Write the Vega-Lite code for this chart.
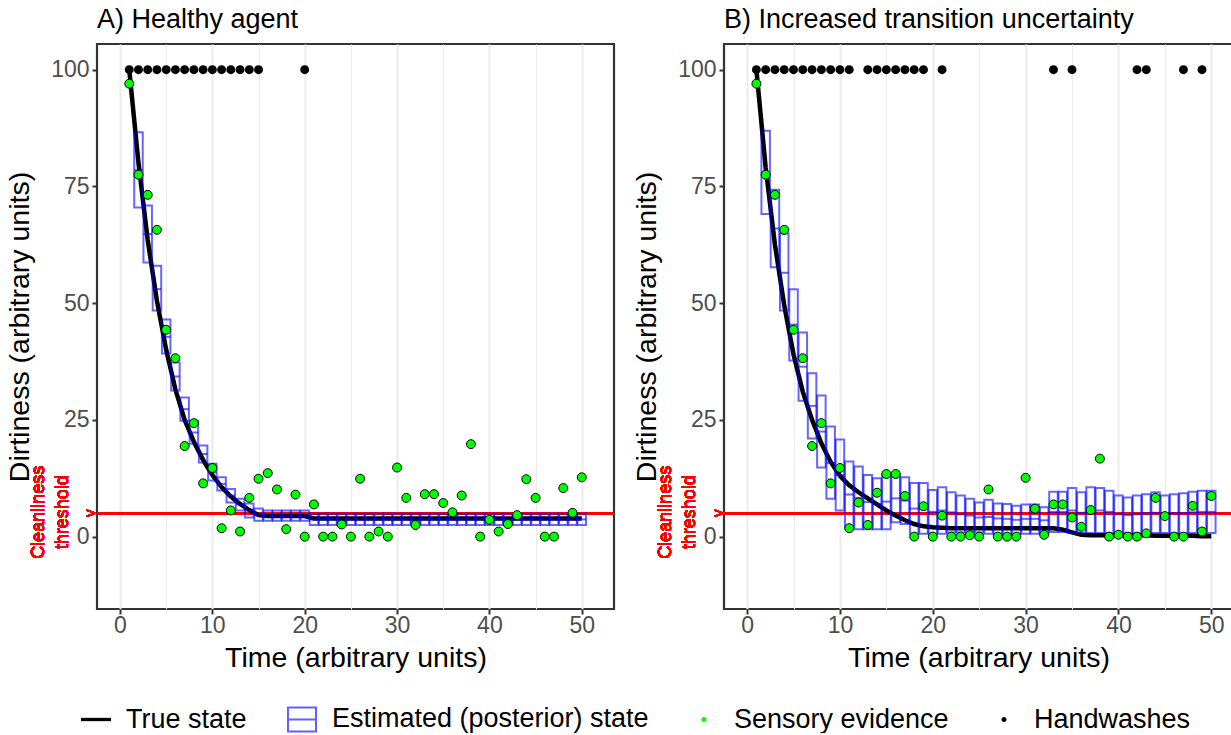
{
  "$schema": "https://vega.github.io/schema/vega-lite/v6.json",
  "padding": {"left": 4, "top": 4, "right": 0, "bottom": 0},
  "autosize": {"type": "pad"},
  "spacing": 14,
  "config": {
    "font": "Liberation Sans",
    "view": {"stroke": "#333333", "strokeWidth": 2.2},
    "axis": {
      "labelFont": "Liberation Sans", "labelFontSize": 23, "labelColor": "#4D4D4D",
      "titleFont": "Liberation Sans", "titleFontSize": 28.5, "titleFontWeight": "normal", "titleColor": "black",
      "tickColor": "#333333", "tickSize": 5, "tickWidth": 2, "domain": false,
      "gridColor": "#EBEBEB", "labelPadding": 3
    },
    "axisX": {"titlePadding": 6, "labelPadding": 0},
    "axisY": {"titlePadding": 16},
    "title": {"font": "Liberation Sans", "fontSize": 27, "fontWeight": "normal", "color": "black", "anchor": "start", "frame": "group", "offset": 10}
  },
  "datasets": {
    "a": [
      {"t": 1, "truth": 100, "obs": 97, "wash": 100},
      {"t": 2, "truth": 80, "lo": 70.5, "mid": 78.5, "hi": 86.6, "obs": 77.5, "wash": 100},
      {"t": 3, "truth": 63.5, "lo": 58.7, "mid": 64.8, "hi": 70.9, "obs": 73.2, "wash": 100},
      {"t": 4, "truth": 50.5, "lo": 48.4, "mid": 53, "hi": 58, "obs": 65.7, "wash": 100},
      {"t": 5, "truth": 40, "lo": 39.2, "mid": 42.8, "hi": 46.5, "obs": 44.3, "wash": 100},
      {"t": 6, "truth": 31.5, "lo": 31.3, "mid": 34.3, "hi": 37.3, "obs": 38.2, "wash": 100},
      {"t": 7, "truth": 25, "lo": 24.8, "mid": 27.3, "hi": 29.8, "obs": 19.4, "wash": 100},
      {"t": 8, "truth": 20.3, "lo": 19.9, "mid": 22.3, "hi": 24.8, "obs": 24.3, "wash": 100},
      {"t": 9, "truth": 16.4, "lo": 15.9, "mid": 17.7, "hi": 19.5, "obs": 11.4, "wash": 100},
      {"t": 10, "truth": 13.2, "lo": 12, "mid": 13.8, "hi": 15.6, "obs": 14.7, "wash": 100},
      {"t": 11, "truth": 10.6, "lo": 9.9, "mid": 11.3, "hi": 12.7, "obs": 1.8, "wash": 100},
      {"t": 12, "truth": 8.6, "lo": 7.3, "mid": 8.8, "hi": 10.2, "obs": 5.6, "wash": 100},
      {"t": 13, "truth": 7, "lo": 5.6, "mid": 6.9, "hi": 8.1, "obs": 1.1, "wash": 100},
      {"t": 14, "truth": 5.7, "lo": 4.1, "mid": 5.6, "hi": 7.1, "obs": 8.3, "wash": 100},
      {"t": 15, "truth": 4.6, "lo": 3.4, "mid": 4.7, "hi": 6, "obs": 12.4, "wash": 100},
      {"t": 16, "truth": 4.4, "lo": 3.4, "mid": 4.5, "hi": 5.6, "obs": 13.6},
      {"t": 17, "truth": 4.4, "lo": 3.4, "mid": 4.5, "hi": 5.6, "obs": 10.1},
      {"t": 18, "truth": 4.4, "lo": 3.4, "mid": 4.5, "hi": 5.6, "obs": 1.6},
      {"t": 19, "truth": 4.4, "lo": 3.4, "mid": 4.5, "hi": 5.6, "obs": 9.0},
      {"t": 20, "truth": 4.4, "lo": 3.4, "mid": 4.5, "hi": 5.6, "obs": 0, "wash": 100},
      {"t": 21, "truth": 3.9, "lo": 2.5, "mid": 3.7, "hi": 4.9, "obs": 6.9},
      {"t": 22, "truth": 3.9, "lo": 2.5, "mid": 3.7, "hi": 4.9, "obs": 0},
      {"t": 23, "truth": 3.9, "lo": 2.5, "mid": 3.7, "hi": 4.9, "obs": 0},
      {"t": 24, "truth": 3.9, "lo": 2.5, "mid": 3.7, "hi": 4.9, "obs": 2.6},
      {"t": 25, "truth": 3.9, "lo": 2.5, "mid": 3.7, "hi": 4.9, "obs": 0},
      {"t": 26, "truth": 3.9, "lo": 2.5, "mid": 3.7, "hi": 4.9, "obs": 12.4},
      {"t": 27, "truth": 3.9, "lo": 2.5, "mid": 3.7, "hi": 4.9, "obs": 0},
      {"t": 28, "truth": 3.9, "lo": 2.5, "mid": 3.7, "hi": 4.9, "obs": 1.1},
      {"t": 29, "truth": 3.9, "lo": 2.5, "mid": 3.7, "hi": 4.9, "obs": 0},
      {"t": 30, "truth": 3.9, "lo": 2.5, "mid": 3.7, "hi": 4.9, "obs": 14.8},
      {"t": 31, "truth": 3.9, "lo": 2.5, "mid": 3.7, "hi": 4.9, "obs": 8.3},
      {"t": 32, "truth": 3.9, "lo": 2.5, "mid": 3.7, "hi": 4.9, "obs": 2.5},
      {"t": 33, "truth": 3.9, "lo": 2.5, "mid": 3.7, "hi": 4.9, "obs": 9.1},
      {"t": 34, "truth": 3.9, "lo": 2.5, "mid": 3.7, "hi": 4.9, "obs": 9.1},
      {"t": 35, "truth": 3.9, "lo": 2.5, "mid": 3.7, "hi": 4.9, "obs": 7.2},
      {"t": 36, "truth": 3.9, "lo": 2.5, "mid": 3.7, "hi": 4.9, "obs": 5.2},
      {"t": 37, "truth": 3.9, "lo": 2.5, "mid": 3.7, "hi": 4.9, "obs": 8.8},
      {"t": 38, "truth": 3.9, "lo": 2.5, "mid": 3.7, "hi": 4.9, "obs": 19.8},
      {"t": 39, "truth": 3.9, "lo": 2.5, "mid": 3.7, "hi": 4.9, "obs": 0},
      {"t": 40, "truth": 3.9, "lo": 2.5, "mid": 3.7, "hi": 4.9, "obs": 3.6},
      {"t": 41, "truth": 3.9, "lo": 2.5, "mid": 3.7, "hi": 4.9, "obs": 1.1},
      {"t": 42, "truth": 3.9, "lo": 2.5, "mid": 3.7, "hi": 4.9, "obs": 2.7},
      {"t": 43, "truth": 3.9, "lo": 2.5, "mid": 3.7, "hi": 4.9, "obs": 4.6},
      {"t": 44, "truth": 3.9, "lo": 2.5, "mid": 3.7, "hi": 4.9, "obs": 12.3},
      {"t": 45, "truth": 3.9, "lo": 2.5, "mid": 3.7, "hi": 4.9, "obs": 8.3},
      {"t": 46, "truth": 3.9, "lo": 2.5, "mid": 3.7, "hi": 4.9, "obs": 0},
      {"t": 47, "truth": 3.9, "lo": 2.5, "mid": 3.7, "hi": 4.9, "obs": 0},
      {"t": 48, "truth": 3.9, "lo": 2.5, "mid": 3.7, "hi": 4.9, "obs": 10.4},
      {"t": 49, "truth": 3.9, "lo": 2.5, "mid": 3.7, "hi": 4.9, "obs": 5.1},
      {"t": 50, "truth": 3.9, "lo": 2.5, "mid": 3.7, "hi": 4.9, "obs": 12.7}
    ],
    "b": [
      {"t": 1, "truth": 100, "obs": 97, "wash": 100},
      {"t": 2, "truth": 79, "lo": 69.1, "mid": 78, "hi": 86.9, "obs": 77.5, "wash": 100},
      {"t": 3, "truth": 62.5, "lo": 57.7, "mid": 66, "hi": 74.3, "obs": 73.2, "wash": 100},
      {"t": 4, "truth": 49.5, "lo": 48.4, "mid": 56.5, "hi": 64.9, "obs": 65.7, "wash": 100},
      {"t": 5, "truth": 39, "lo": 37.7, "mid": 45.4, "hi": 53, "obs": 44.3, "wash": 100},
      {"t": 6, "truth": 31, "lo": 29.1, "mid": 36.4, "hi": 43.7, "obs": 38.2, "wash": 100},
      {"t": 7, "truth": 25, "lo": 21, "mid": 28, "hi": 35, "obs": 19.4, "wash": 100},
      {"t": 8, "truth": 20, "lo": 14.8, "mid": 22.5, "hi": 30.2, "obs": 24.3, "wash": 100},
      {"t": 9, "truth": 16, "lo": 8.1, "mid": 15.8, "hi": 23.6, "obs": 11.4, "wash": 100},
      {"t": 10, "truth": 13, "lo": 5.6, "mid": 13.2, "hi": 20.8, "obs": 14.7, "wash": 100},
      {"t": 11, "truth": 11, "lo": 2, "mid": 9, "hi": 16.1, "obs": 1.8, "wash": 100},
      {"t": 12, "truth": 9.5, "lo": 1.6, "mid": 8.3, "hi": 15, "obs": 7.3},
      {"t": 13, "truth": 8.2, "lo": 1.6, "mid": 7.4, "hi": 13.2, "obs": 2.5, "wash": 100},
      {"t": 14, "truth": 6.9, "lo": 1.6, "mid": 7, "hi": 12.5, "obs": 9.4, "wash": 100},
      {"t": 15, "truth": 5.6, "lo": 1.6, "mid": 7.5, "hi": 13.4, "obs": 13.4, "wash": 100},
      {"t": 16, "truth": 4.5, "lo": 3.1, "mid": 8.2, "hi": 13.4, "obs": 13.4, "wash": 100},
      {"t": 17, "truth": 3.5, "lo": 2.7, "mid": 7.7, "hi": 12.7, "obs": 8.7, "wash": 100},
      {"t": 18, "truth": 2.7, "lo": 0.6, "mid": 6, "hi": 11.5, "obs": 0, "wash": 100},
      {"t": 19, "truth": 2.2, "lo": 0.6, "mid": 6, "hi": 11.5, "obs": 6.5, "wash": 100},
      {"t": 20, "truth": 2, "lo": 0.6, "mid": 5.3, "hi": 10, "obs": 0},
      {"t": 21, "truth": 1.9, "lo": 0.6, "mid": 5.6, "hi": 10.6, "obs": 4.5, "wash": 100},
      {"t": 22, "truth": 1.8, "lo": 0.9, "mid": 5.2, "hi": 9.5, "obs": 0},
      {"t": 23, "truth": 1.8, "lo": 0.9, "mid": 4.8, "hi": 8.8, "obs": 0},
      {"t": 24, "truth": 1.8, "lo": 0.9, "mid": 4.5, "hi": 8.1, "obs": 0.3},
      {"t": 25, "truth": 1.8, "lo": 0.9, "mid": 4.1, "hi": 7.3, "obs": 0},
      {"t": 26, "truth": 1.8, "lo": 0.6, "mid": 4.2, "hi": 7.9, "obs": 10.1},
      {"t": 27, "truth": 1.8, "lo": 0.6, "mid": 3.9, "hi": 7.1, "obs": 0},
      {"t": 28, "truth": 1.8, "lo": 0.6, "mid": 3.8, "hi": 7, "obs": 0},
      {"t": 29, "truth": 1.8, "lo": 0.6, "mid": 3.6, "hi": 6.6, "obs": 0},
      {"t": 30, "truth": 1.8, "lo": 0.6, "mid": 3.8, "hi": 6.9, "obs": 12.6},
      {"t": 31, "truth": 1.8, "lo": 0.6, "mid": 3.8, "hi": 6.9, "obs": 6},
      {"t": 32, "truth": 1.8, "lo": 0.6, "mid": 3.5, "hi": 6.3, "obs": 0.4},
      {"t": 33, "truth": 1.8, "lo": 1, "mid": 5.3, "hi": 9.6, "obs": 6.9, "wash": 100},
      {"t": 34, "truth": 1.5, "lo": 1, "mid": 5.3, "hi": 9.6, "obs": 6.9},
      {"t": 35, "truth": 0.9, "lo": 0.8, "mid": 5.6, "hi": 10.4, "obs": 4.1, "wash": 100},
      {"t": 36, "truth": 0.4, "lo": 0.8, "mid": 5.1, "hi": 9.5, "obs": 2.1},
      {"t": 37, "truth": 0.3, "lo": 0.8, "mid": 5.7, "hi": 10.6, "obs": 5.7},
      {"t": 38, "truth": 0.3, "lo": 0.8, "mid": 5.6, "hi": 10.4, "obs": 16.7},
      {"t": 39, "truth": 0.3, "lo": 0.8, "mid": 5.3, "hi": 9.85, "obs": 0},
      {"t": 40, "truth": 0.3, "lo": 0.8, "mid": 4.8, "hi": 8.8, "obs": 0.4},
      {"t": 41, "truth": 0.3, "lo": 0.8, "mid": 4.6, "hi": 8.4, "obs": 0},
      {"t": 42, "truth": 0.3, "lo": 0.8, "mid": 4.8, "hi": 8.8, "obs": 0, "wash": 100},
      {"t": 43, "truth": 0.3, "lo": 0.8, "mid": 5, "hi": 9.1, "obs": 0.7, "wash": 100},
      {"t": 44, "truth": 0.2, "lo": 0.8, "mid": 5.1, "hi": 9.5, "obs": 8.3},
      {"t": 45, "truth": 0.2, "lo": 0.8, "mid": 4.8, "hi": 8.8, "obs": 4.4},
      {"t": 46, "truth": 0.2, "lo": 0.8, "mid": 5, "hi": 9.1, "obs": 0},
      {"t": 47, "truth": 0.2, "lo": 0.8, "mid": 5, "hi": 9.3, "obs": 0, "wash": 100},
      {"t": 48, "truth": 0.2, "lo": 0.8, "mid": 5.2, "hi": 9.6, "obs": 6.6},
      {"t": 49, "truth": 0.1, "lo": 0.8, "mid": 5.3, "hi": 9.85, "obs": 1.1, "wash": 100},
      {"t": 50, "truth": 0.1, "lo": 0.8, "mid": 5.3, "hi": 9.85, "obs": 8.7}
    ],
    "legend": [
      {"series": "True state"},
      {"series": "Estimated (posterior) state"},
      {"series": "Sensory evidence"},
      {"series": "Handwashes"}
    ]
  },
  "hconcat": [
    {
      "width": 517, "height": 565,
      "title": {"text": "A) Healthy agent"},
      "data": {"name": "a"},
      "layer": [
        {
          "mark": {"type": "rule", "color": "red", "strokeWidth": 2},
          "encoding": {"y": {"datum": 5, "type": "quantitative", "title": "Dirtiness (arbitrary units)", "scale": {"domain": [-15.5, 105.5], "nice": false, "zero": false}}}
        },
        {
          "mark": {"type": "line", "color": "black", "strokeWidth": 4.5},
          "encoding": {
            "x": {"field": "t", "type": "quantitative", "title": "Time (arbitrary units)",
              "scale": {"domain": [-1.95, 52.95], "nice": false, "zero": false},
              "axis": {"values": [0, 5, 10, 15, 20, 25, 30, 35, 40, 45, 50], "format": "d",
                "labelExpr": "datum.value % 10 === 0 ? datum.label : ''",
                "gridWidth": {"condition": {"test": "datum.value % 10 === 0", "value": 2}, "value": 1},
                "tickOpacity": {"condition": {"test": "datum.value % 10 === 0", "value": 1}, "value": 0}}},
            "y": {"field": "truth", "type": "quantitative", "title": "Dirtiness (arbitrary units)",
              "scale": {"domain": [-15.5, 105.5], "nice": false, "zero": false},
              "axis": {"values": [-12.5, 0, 12.5, 25, 37.5, 50, 62.5, 75, 87.5, 100], "format": "d",
                "labelExpr": "datum.value % 25 === 0 ? datum.label : ''",
                "gridWidth": {"condition": {"test": "datum.value % 25 === 0", "value": 2}, "value": 1},
                "tickOpacity": {"condition": {"test": "datum.value % 25 === 0", "value": 1}, "value": 0}}}
          }
        },
        {
          "transform": [{"filter": "isValid(datum.mid)"}],
          "mark": {"type": "bar", "width": 8.5, "filled": false, "stroke": "blue", "strokeOpacity": 0.6, "strokeWidth": 2, "opacity": 1},
          "encoding": {
            "x": {"field": "t", "type": "quantitative", "title": "Time (arbitrary units)"},
            "y": {"field": "lo", "type": "quantitative", "title": "Dirtiness (arbitrary units)"},
            "y2": {"field": "hi"}
          }
        },
        {
          "transform": [{"filter": "isValid(datum.mid)"}],
          "mark": {"type": "tick", "orient": "horizontal", "size": 8.5, "thickness": 2, "color": "blue", "opacity": 0.6},
          "encoding": {
            "x": {"field": "t", "type": "quantitative", "title": "Time (arbitrary units)"},
            "y": {"field": "mid", "type": "quantitative", "title": "Dirtiness (arbitrary units)"}
          }
        },
        {
          "transform": [{"filter": "isValid(datum.wash)"}],
          "mark": {"type": "circle", "color": "black", "size": 80, "opacity": 1},
          "encoding": {
            "x": {"field": "t", "type": "quantitative", "title": "Time (arbitrary units)"},
            "y": {"field": "wash", "type": "quantitative", "title": "Dirtiness (arbitrary units)"}
          }
        },
        {
          "mark": {"type": "circle", "fill": "#00FF00", "stroke": "black", "strokeWidth": 1, "size": 80, "opacity": 1},
          "encoding": {
            "x": {"field": "t", "type": "quantitative", "title": "Time (arbitrary units)"},
            "y": {"field": "obs", "type": "quantitative", "title": "Dirtiness (arbitrary units)"}
          }
        },
        {
          "mark": {"type": "text", "text": "Cleanliness", "angle": 270, "color": "red", "fontSize": 18, "align": "center", "baseline": "middle"},
          "encoding": {"x": {"datum": -8.8, "type": "quantitative"}, "y": {"datum": 5.2, "type": "quantitative"}}
        },
        {
          "mark": {"type": "text", "text": "threshold", "angle": 270, "color": "red", "fontSize": 18, "align": "center", "baseline": "middle"},
          "encoding": {"x": {"datum": -6.15, "type": "quantitative"}, "y": {"datum": 5.2, "type": "quantitative"}}
        },
        {
          "mark": {"type": "text", "text": "v", "angle": 270, "color": "red", "fontSize": 15, "align": "center", "baseline": "middle"},
          "encoding": {"x": {"datum": -3.2, "type": "quantitative"}, "y": {"datum": 5, "type": "quantitative"}}
        },
        {
          "data": {"name": "legend"},
          "transform": [{"filter": "false"}],
          "mark": {"type": "point", "filled": true, "opacity": 1},
          "encoding": {
            "color": {"field": "series", "type": "nominal",
              "scale": {"domain": ["True state", "Estimated (posterior) state", "Sensory evidence", "Handwashes"], "range": ["black", "#6060FF", "#00FF00", "black"]},
              "legend": {"title": null, "orient": "none", "legendX": -16, "legendY": 660, "direction": "horizontal", "columns": 4, "symbolSize": 900, "labelFontSize": 27, "labelFont": "Liberation Sans", "labelColor": "black", "labelOffset": 15, "labelLimit": 500, "columnPadding": 40, "padding": 0, "symbolStrokeWidth": 0}},
            "shape": {"field": "series", "type": "nominal",
              "scale": {"domain": ["True state", "Estimated (posterior) state", "Sensory evidence", "Handwashes"],
                "range": ["M-1,-0.11H1V0.11H-1Z", "M-1,-0.87H1V0.87H-1Z M-0.867,-0.737V0.737H0.867V-0.737Z M-0.867,-0.067H0.867V0.067H-0.867Z", "M-0.17,0A0.17,0.17,0,1,1,0.17,0A0.17,0.17,0,1,1,-0.17,0Z", "M-0.17,0A0.17,0.17,0,1,1,0.17,0A0.17,0.17,0,1,1,-0.17,0Z"]},
              "legend": {"title": null, "orient": "none", "legendX": -16, "legendY": 660, "direction": "horizontal", "columns": 4, "symbolSize": 900, "labelFontSize": 27, "labelFont": "Liberation Sans", "labelColor": "black", "labelOffset": 15, "labelLimit": 500, "columnPadding": 40, "padding": 0, "symbolStrokeWidth": 0}}
          }
        }
      ]
    },
    {
      "width": 509, "height": 565,
      "title": {"text": "B) Increased transition uncertainty"},
      "data": {"name": "b"},
      "layer": [
        {
          "mark": {"type": "rule", "color": "red", "strokeWidth": 2},
          "encoding": {"y": {"datum": 5, "type": "quantitative", "title": "Dirtiness (arbitrary units)", "scale": {"domain": [-15.5, 105.5], "nice": false, "zero": false}}}
        },
        {
          "mark": {"type": "line", "color": "black", "strokeWidth": 4.5},
          "encoding": {
            "x": {"field": "t", "type": "quantitative", "title": "Time (arbitrary units)",
              "scale": {"domain": [-1.95, 51.8], "nice": false, "zero": false},
              "axis": {"values": [0, 5, 10, 15, 20, 25, 30, 35, 40, 45, 50], "format": "d",
                "labelExpr": "datum.value % 10 === 0 ? datum.label : ''",
                "gridWidth": {"condition": {"test": "datum.value % 10 === 0", "value": 2}, "value": 1},
                "tickOpacity": {"condition": {"test": "datum.value % 10 === 0", "value": 1}, "value": 0}}},
            "y": {"field": "truth", "type": "quantitative", "title": "Dirtiness (arbitrary units)",
              "scale": {"domain": [-15.5, 105.5], "nice": false, "zero": false},
              "axis": {"values": [-12.5, 0, 12.5, 25, 37.5, 50, 62.5, 75, 87.5, 100], "format": "d",
                "labelExpr": "datum.value % 25 === 0 ? datum.label : ''",
                "gridWidth": {"condition": {"test": "datum.value % 25 === 0", "value": 2}, "value": 1},
                "tickOpacity": {"condition": {"test": "datum.value % 25 === 0", "value": 1}, "value": 0}}}
          }
        },
        {
          "transform": [{"filter": "isValid(datum.mid)"}],
          "mark": {"type": "bar", "width": 8.5, "filled": false, "stroke": "blue", "strokeOpacity": 0.6, "strokeWidth": 2, "opacity": 1},
          "encoding": {
            "x": {"field": "t", "type": "quantitative", "title": "Time (arbitrary units)"},
            "y": {"field": "lo", "type": "quantitative", "title": "Dirtiness (arbitrary units)"},
            "y2": {"field": "hi"}
          }
        },
        {
          "transform": [{"filter": "isValid(datum.mid)"}],
          "mark": {"type": "tick", "orient": "horizontal", "size": 8.5, "thickness": 2, "color": "blue", "opacity": 0.6},
          "encoding": {
            "x": {"field": "t", "type": "quantitative", "title": "Time (arbitrary units)"},
            "y": {"field": "mid", "type": "quantitative", "title": "Dirtiness (arbitrary units)"}
          }
        },
        {
          "transform": [{"filter": "isValid(datum.wash)"}],
          "mark": {"type": "circle", "color": "black", "size": 80, "opacity": 1},
          "encoding": {
            "x": {"field": "t", "type": "quantitative", "title": "Time (arbitrary units)"},
            "y": {"field": "wash", "type": "quantitative", "title": "Dirtiness (arbitrary units)"}
          }
        },
        {
          "mark": {"type": "circle", "fill": "#00FF00", "stroke": "black", "strokeWidth": 1, "size": 80, "opacity": 1},
          "encoding": {
            "x": {"field": "t", "type": "quantitative", "title": "Time (arbitrary units)"},
            "y": {"field": "obs", "type": "quantitative", "title": "Dirtiness (arbitrary units)"}
          }
        },
        {
          "mark": {"type": "text", "text": "Cleanliness", "angle": 270, "color": "red", "fontSize": 18, "align": "center", "baseline": "middle"},
          "encoding": {"x": {"datum": -8.75, "type": "quantitative"}, "y": {"datum": 5.2, "type": "quantitative"}}
        },
        {
          "mark": {"type": "text", "text": "threshold", "angle": 270, "color": "red", "fontSize": 18, "align": "center", "baseline": "middle"},
          "encoding": {"x": {"datum": -6.1, "type": "quantitative"}, "y": {"datum": 5.2, "type": "quantitative"}}
        },
        {
          "mark": {"type": "text", "text": "v", "angle": 270, "color": "red", "fontSize": 15, "align": "center", "baseline": "middle"},
          "encoding": {"x": {"datum": -3.1, "type": "quantitative"}, "y": {"datum": 5, "type": "quantitative"}}
        }
      ]
    }
  ]
}
